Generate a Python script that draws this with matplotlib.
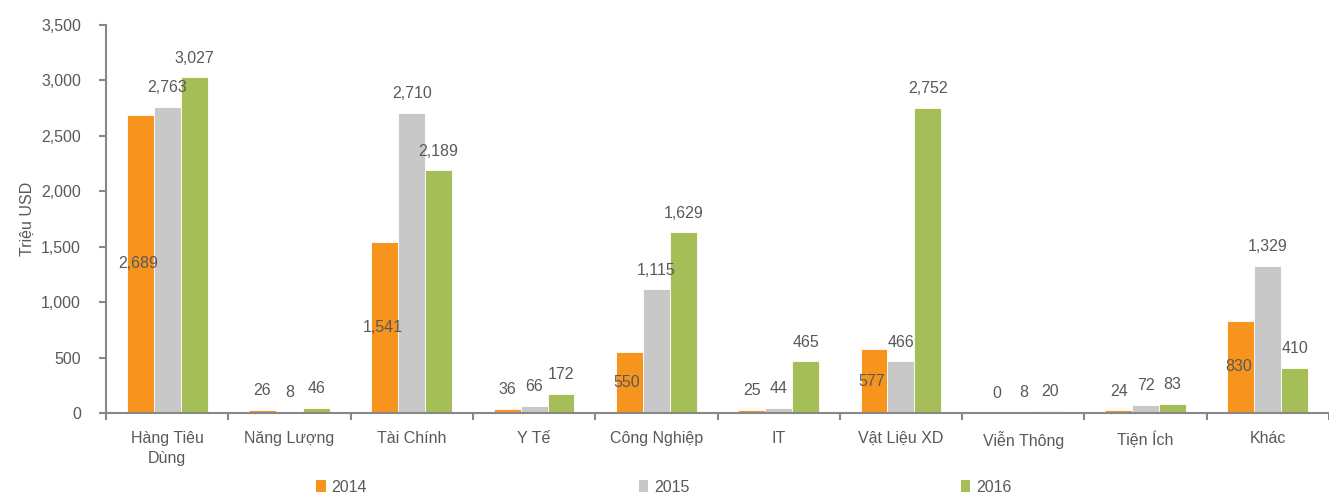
import matplotlib
matplotlib.use("Agg")
import matplotlib.pyplot as plt
import numpy as np
from matplotlib.patches import Patch

categories = ["Hàng Tiêu\nDùng", "Năng Lượng", "Tài Chính", "Y Tế", "Công Nghiệp",
              "IT", "Vật Liệu XD", "Viễn Thông", "Tiện Ích", "Khác"]
years = ["2014", "2015", "2016"]
v2014 = [2689, 26, 1541, 36, 550, 25, 577, 0, 24, 830]
v2015 = [2763, 8, 2710, 66, 1115, 44, 466, 8, 72, 1329]
v2016 = [3027, 46, 2189, 172, 1629, 465, 2752, 20, 83, 410]
colors = ["#F7941D", "#C8C8C8", "#A6BE58"]

plt.rcParams['font.family'] = ['Liberation Sans', 'DejaVu Sans']
txt = "#595959"
fs = 11.5

fig = plt.figure(figsize=(13.29, 4.95), dpi=100)
ax = fig.add_axes([106/1329, 1-413/495, 1-106/1329, (413-25)/495])

x = np.arange(len(categories))
w = 0.22
series = [v2014, v2015, v2016]
for i, (vals, c) in enumerate(zip(series, colors)):
    xs = x + (i - 1) * w
    ax.bar(xs, vals, width=w, color=c, edgecolor="white", linewidth=0.6, zorder=2)
    for xi, v in zip(xs, vals):
        if i == 0 and v >= 100:
            ax.text(xi - 0.02, v / 2, f"{v:,}", ha="center", va="center", fontsize=fs, color=txt, zorder=3)
        else:
            ax.annotate(f"{v:,}", (xi, v), xytext=(0, 8.5), textcoords="offset points",
                        ha="center", va="bottom", fontsize=fs, color=txt, zorder=3)

ax.set_xlim(-0.5, len(categories) - 0.5)
ax.set_ylim(0, 3500)
ax.set_yticks(np.arange(0, 3501, 500))
ax.set_yticklabels([f"{t:,}" for t in range(0, 3501, 500)])
ax.set_xticks(x)
ax.set_xticklabels(categories, linespacing=1.4)
ax.set_xticks(np.arange(-0.5, len(categories), 1), minor=True)
ax.tick_params(axis="x", which="major", length=0, pad=13, labelsize=fs, labelcolor=txt)
ax.tick_params(axis="x", which="minor", length=5, width=1.5, color="#888888", direction="out")
ax.tick_params(axis="y", length=5, width=1.5, color="#888888", pad=13, labelsize=fs, labelcolor=txt)

for s in ["top", "right"]:
    ax.spines[s].set_visible(False)
for s in ["left", "bottom"]:
    ax.spines[s].set_color("#888888")
    ax.spines[s].set_linewidth(1.5)

ax.set_ylabel("Triệu USD", fontsize=fs, color=txt)
ax.yaxis.set_label_coords(-0.0585, 0.5)

handles = [Patch(facecolor=c, edgecolor="none") for c in colors]
fig.legend(handles, years, ncol=3, loc="center", bbox_to_anchor=(0.4995, 0.016),
           frameon=False, fontsize=fs, labelcolor=txt, handlelength=0.6,
           handleheight=0.85, handletextpad=0.35, columnspacing=17.0,
           borderaxespad=0, borderpad=0)

fig.savefig("out.png", dpi=100)
